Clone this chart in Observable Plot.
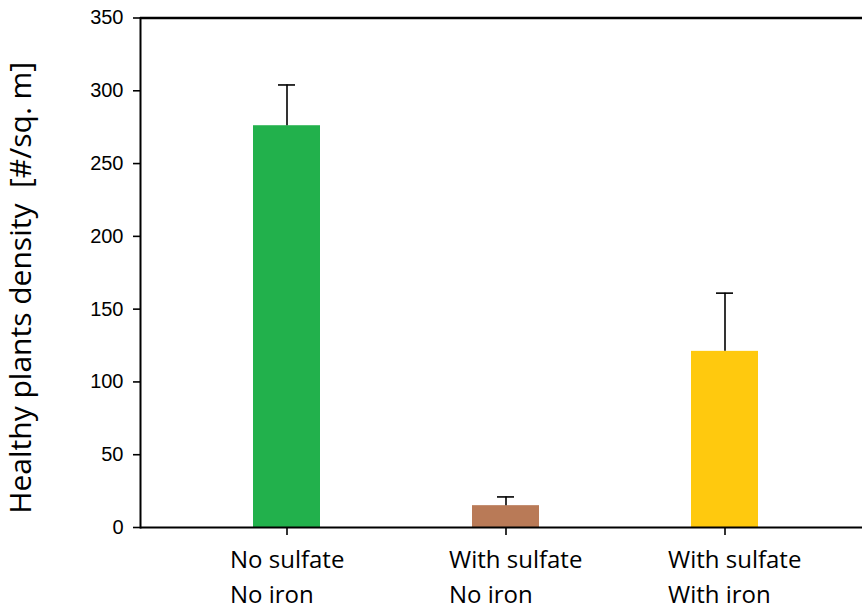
<!DOCTYPE html>
<html>
<head>
<meta charset="utf-8">
<script src="https://cdn.jsdelivr.net/npm/d3@7"></script>
<script src="https://cdn.jsdelivr.net/npm/@observablehq/plot@0.6"></script>
<style>
  html, body { margin: 0; padding: 0; background: #fff; }
  #chart svg { display: block; }
</style>
</head>
<body>
<div id="chart"></div>
<script>
const categories = ["No sulfate\nNo iron", "With sulfate\nNo iron", "With sulfate\nWith iron"];
const values = [276, 15, 121];
const errors = [28, 6, 40];
const colors = ["#22B14C", "#B97A57", "#FFC90E"];
const yTicks = [0, 50, 100, 150, 200, 250, 300, 350];
const yTitle = "Healthy plants density  [#/sq. m]";

const data = categories.map((c, i) => ({
  cat: c, value: values[i], upper: values[i] + errors[i], color: colors[i]
}));

const chart = Plot.plot({
  width: 862,
  height: 607,
  marginLeft: 140,
  marginRight: 0,
  marginTop: 17.5,
  marginBottom: 80,
  style: { background: "#fff", color: "#000" },
  x: { domain: categories, range: [140, 870], paddingInner: 0.695, paddingOuter: 0.508, align: 0.5 },
  y: { domain: [0, 350] },
  color: { type: "identity" },
  marks: [
    Plot.barY(data, { x: "cat", y: "value", fill: "color" }),
    Plot.ruleX(data, { x: "cat", y1: "value", y2: "upper", stroke: "#000", strokeWidth: 1.6 }),
    Plot.tickY(data, { x: "cat", y: "upper", stroke: "#000", strokeWidth: 1.6, insetLeft: 25, insetRight: 25 }),
    Plot.ruleY([0], { stroke: "#000", strokeWidth: 2 }),
    Plot.ruleY([350], { stroke: "#000", strokeWidth: 2.6 }),
    Plot.frame({ anchor: "left", stroke: "#000", strokeWidth: 2 }),
    Plot.axisY({
      ticks: yTicks, tickSize: 7, tickPadding: 10, label: null,
      fontSize: 20, fontFamily: "Liberation Sans, Arial, sans-serif", strokeWidth: 1.6
    }),
    Plot.axisX({ tickSize: 8, tickFormat: null, label: null, strokeWidth: 1.6 }),
    Plot.text(data, {
      x: "cat", text: "cat", frameAnchor: "bottom", textAnchor: "start", lineAnchor: "top",
      dx: -57, dy: 16, fontSize: 24, lineHeight: 1.46, fill: "#000",
      fontFamily: "Open Sans, Noto Sans, sans-serif"
    }),
    Plot.text([yTitle], {
      text: d => d, frameAnchor: "left", rotate: -90, dx: -119, dy: 15,
      textAnchor: "middle", lineAnchor: "middle", fontSize: 30, fill: "#000",
      fontFamily: "Open Sans, Noto Sans, sans-serif"
    })
  ]
});
document.getElementById("chart").appendChild(chart);
</script>
</body>
</html>
